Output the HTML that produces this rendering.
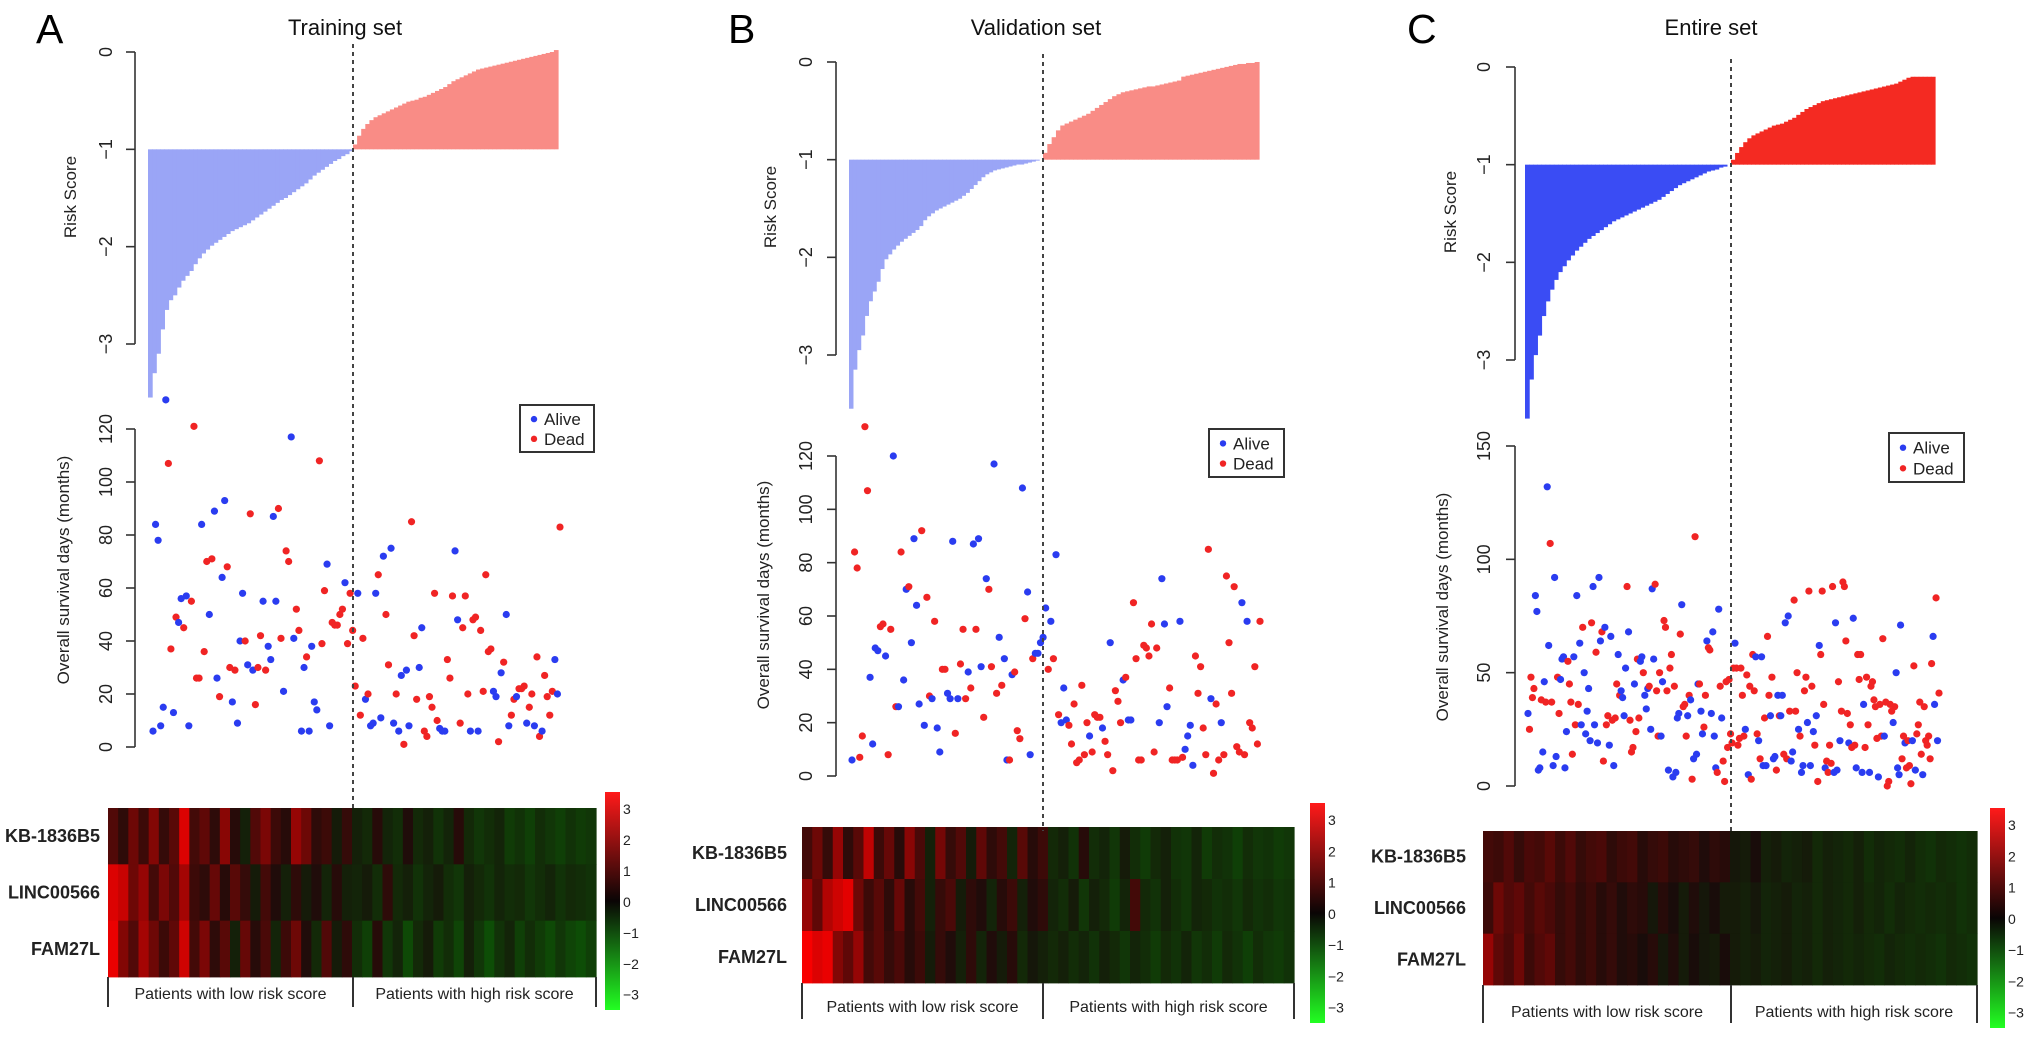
<!DOCTYPE html>
<html><head><meta charset="utf-8"><style>
html,body{margin:0;padding:0;background:#fff;}
svg{display:block;font-family:"Liberation Sans",Arial,sans-serif;}
</style></head><body>
<svg id="fig" width="2031" height="1039" viewBox="0 0 2031 1039" xmlns="http://www.w3.org/2000/svg">
<rect x="0" y="0" width="2031" height="1039" fill="#fff"/>
</svg>
<script>
// ---------- DATA ----------
const genes = ["KB-1836B5","LINC00566","FAM27L"];
const colorbarTicks = [3,2,1,0,-1,-2,-3];
const riskTicks = [0,-1,-2,-3];
const survTicksAB = [0,20,40,60,80,100,120];
const survTicksC = [0,50,100,150];
const legendLabels = ["Alive","Dead"];
const groupLabels = ["Patients with low risk score","Patients with high risk score"];

const riskLowA = [-3.55,-3.3,-3.1,-2.85,-2.65,-2.55,-2.5,-2.42,-2.35,-2.3,-2.25,-2.18,-2.12,-2.07,-2.03,-1.99,-1.96,-1.93,-1.9,-1.87,-1.84,-1.82,-1.8,-1.78,-1.76,-1.73,-1.7,-1.67,-1.64,-1.61,-1.58,-1.55,-1.52,-1.5,-1.47,-1.44,-1.41,-1.38,-1.35,-1.31,-1.27,-1.24,-1.21,-1.18,-1.15,-1.12,-1.1,-1.07,-1.05,-1.02];
const riskHighA = [-0.95,-0.86,-0.79,-0.74,-0.7,-0.67,-0.65,-0.63,-0.61,-0.59,-0.57,-0.55,-0.53,-0.51,-0.5,-0.49,-0.47,-0.46,-0.44,-0.42,-0.4,-0.38,-0.36,-0.33,-0.3,-0.28,-0.26,-0.24,-0.22,-0.2,-0.18,-0.17,-0.16,-0.15,-0.14,-0.13,-0.12,-0.11,-0.1,-0.09,-0.08,-0.07,-0.06,-0.05,-0.04,-0.03,-0.02,-0.01,0.0,0.02];
const riskLowB = [-3.55,-3.15,-2.95,-2.8,-2.6,-2.45,-2.35,-2.25,-2.12,-2.02,-1.97,-1.92,-1.88,-1.84,-1.81,-1.78,-1.75,-1.72,-1.68,-1.62,-1.58,-1.55,-1.52,-1.5,-1.48,-1.46,-1.44,-1.42,-1.4,-1.37,-1.34,-1.3,-1.26,-1.22,-1.18,-1.15,-1.13,-1.11,-1.1,-1.09,-1.08,-1.07,-1.06,-1.05,-1.05,-1.04,-1.03,-1.02,-1.01,-1.0];
const riskHighB = [-0.93,-0.84,-0.77,-0.7,-0.65,-0.63,-0.61,-0.59,-0.57,-0.55,-0.53,-0.5,-0.47,-0.44,-0.41,-0.38,-0.35,-0.33,-0.31,-0.3,-0.29,-0.28,-0.27,-0.26,-0.25,-0.25,-0.24,-0.23,-0.22,-0.21,-0.2,-0.19,-0.15,-0.14,-0.13,-0.12,-0.11,-0.1,-0.09,-0.08,-0.07,-0.06,-0.05,-0.04,-0.03,-0.02,-0.02,-0.01,-0.01,0.0];
const riskLowC = [-3.6,-3.2,-2.95,-2.75,-2.55,-2.4,-2.28,-2.18,-2.1,-2.04,-1.98,-1.93,-1.88,-1.84,-1.8,-1.76,-1.73,-1.7,-1.67,-1.64,-1.61,-1.58,-1.56,-1.54,-1.52,-1.5,-1.48,-1.46,-1.44,-1.42,-1.4,-1.38,-1.36,-1.33,-1.3,-1.27,-1.24,-1.21,-1.19,-1.17,-1.15,-1.13,-1.11,-1.09,-1.07,-1.06,-1.05,-1.03,-1.02,-1.0];
const riskHighC = [-0.95,-0.88,-0.82,-0.77,-0.73,-0.7,-0.68,-0.66,-0.64,-0.62,-0.6,-0.59,-0.58,-0.56,-0.54,-0.52,-0.49,-0.46,-0.43,-0.41,-0.39,-0.37,-0.35,-0.34,-0.33,-0.32,-0.31,-0.3,-0.29,-0.28,-0.27,-0.26,-0.25,-0.24,-0.23,-0.22,-0.21,-0.2,-0.19,-0.18,-0.17,-0.15,-0.13,-0.11,-0.1,-0.1,-0.1,-0.1,-0.1,-0.1];

const survA = [6,84,78,8,15,131,107,37,13,49,47,56,45,57,8,55,121,26,26,84,36,70,50,71,89,26,19,64,93,68,30,17,29,9,40,58,40,31,88,29,16,30,42,55,29,38,33,87,55,90,41,21,74,70,117,41,52,44,6,30,34,6,38,17,14,108,39,59,69,8,47,46,46,50,52,62,39,58,44,23,58,12,41,18,20,8,9,58,65,11,72,50,31,75,9,20,6,27,1,29,8,85,42,18,30,45,6,4,19,15,58,10,7,6,6,33,26,57,74,48,9,45,57,20,6,48,49,6,44,21,65,36,37,21,19,2,28,32,50,8,12,18,19,22,22,23,9,15,20,8,34,4,6,27,19,12,21,33,20,83];
const deadA = [0,0,0,0,0,0,1,1,0,1,0,0,1,0,0,1,1,1,1,0,1,1,0,1,0,0,1,0,0,1,1,0,1,0,0,0,1,0,1,0,1,1,1,0,1,0,0,0,0,1,1,0,1,1,0,0,1,1,0,0,1,0,0,0,0,1,1,1,0,0,1,1,1,1,1,0,1,1,1,1,0,1,1,0,1,0,0,0,1,0,0,1,1,0,0,1,0,0,1,0,0,1,1,1,0,0,1,1,1,1,1,1,0,0,0,1,1,1,0,0,1,1,1,1,0,1,1,0,1,1,1,1,1,0,0,1,0,1,0,0,1,1,0,1,1,1,0,1,1,0,1,1,0,1,1,1,1,0,0,1];

const survB = [6,84,78,7,15,131,107,37,12,48,47,56,57,45,8,55,120,26,26,84,36,70,71,50,89,64,27,92,19,67,30,29,58,18,9,40,40,31,29,88,16,29,42,55,29,39,33,87,55,89,41,22,74,70,41,117,31,52,34,44,6,6,38,39,17,14,108,59,69,8,44,46,46,50,52,63,40,58,44,83,23,20,33,21,19,12,27,5,6,34,8,20,15,9,23,22,22,18,13,8,50,2,32,28,20,36,37,21,21,65,44,6,6,49,48,45,57,9,48,20,74,57,26,33,6,6,6,58,7,10,15,19,4,45,31,41,18,8,85,29,1,27,6,20,8,75,50,31,71,11,9,65,8,58,20,18,41,12,58];
const deadB = [0,1,1,1,1,1,1,0,0,0,0,1,1,0,1,1,0,1,0,1,0,0,1,0,0,0,0,1,0,1,1,0,1,0,0,1,1,0,0,0,1,0,1,1,1,0,1,0,1,0,0,1,0,1,1,0,1,0,1,0,0,1,0,1,1,1,0,1,0,0,1,0,0,0,0,0,1,0,1,0,1,0,0,0,1,1,1,1,1,1,1,1,0,1,1,1,1,0,1,1,0,1,1,1,1,0,1,0,0,1,1,1,1,1,1,1,1,1,1,0,0,0,0,1,1,1,1,0,1,0,0,0,0,1,1,1,1,1,1,0,1,1,1,0,1,1,1,1,1,1,1,0,1,0,1,1,1,1,1];

const survC = [32,25,48,39,43,84,77,7,8,38,15,46,37,132,62,107,37,9,92,13,48,32,47,56,57,8,24,55,45,37,14,57,27,84,36,63,27,70,50,23,33,43,20,72,88,27,59,19,92,64,68,11,70,27,31,18,66,29,9,30,45,58,40,42,39,31,52,88,68,29,15,17,45,24,56,30,55,57,50,40,34,43,44,25,87,56,89,42,22,50,22,46,73,70,42,7,52,58,4,44,6,30,32,67,80,35,36,22,31,40,38,3,12,110,14,45,45,33,23,26,40,64,61,60,32,68,22,8,6,78,44,30,11,2,46,17,47,23,19,52,63,52,18,21,52,40,22,25,49,5,44,3,58,42,57,23,20,12,57,9,30,9,66,40,31,48,12,13,7,40,31,31,40,14,72,12,75,33,11,15,82,33,50,25,22,6,9,42,48,28,86,9,44,24,18,31,2,62,58,86,36,8,11,6,18,10,88,6,72,7,46,20,33,90,88,64,32,19,27,17,74,18,8,58,47,58,6,36,17,48,27,6,44,46,38,35,21,4,36,22,65,22,37,0,2,36,33,28,35,50,8,5,71,12,22,19,8,20,9,1,20,53,7,23,27,37,14,5,35,20,18,22,12,54,66,36,83,20,41];
const deadC = [0,1,1,1,1,0,0,0,0,1,0,0,1,0,0,1,1,0,0,0,1,1,0,0,0,0,0,1,1,1,1,0,1,0,1,0,0,1,0,0,0,0,0,1,0,0,1,0,0,0,1,1,0,1,1,0,0,1,0,1,1,0,1,0,0,0,0,1,0,1,1,1,0,1,1,1,0,0,1,0,0,0,1,0,0,0,1,1,1,1,0,0,1,1,1,0,1,1,0,1,0,0,0,1,0,1,1,1,0,1,0,1,0,1,0,0,1,0,0,1,1,0,1,1,0,0,0,0,1,0,1,0,1,1,1,1,1,1,1,1,0,1,1,1,1,1,1,0,1,0,1,1,1,1,0,1,0,1,0,0,1,0,1,1,0,1,0,0,1,0,1,0,0,1,0,1,0,1,0,0,1,1,1,0,1,0,0,1,1,0,1,0,1,0,1,0,1,0,1,1,1,0,1,1,1,1,1,0,0,0,1,0,1,1,1,1,1,0,1,1,0,1,0,1,1,1,0,0,1,1,1,0,1,1,1,1,1,0,1,1,1,0,1,1,1,1,1,0,1,0,0,0,0,1,1,0,1,1,1,1,0,1,0,1,1,1,1,0,1,1,1,1,1,1,0,0,1,0,1];

const heatA_KB = [0.8,0.3,1.2,0.5,1.5,0.4,0.9,2.8,0.6,1.0,0.3,1.6,0.2,-0.3,0.8,1.4,0.5,0.2,1.8,1.2,0.3,0.5,-0.2,0.4,-0.3,-0.5,0.2,-0.4,-0.6,0.1,-0.5,-0.3,-0.7,-0.4,0.2,-0.5,-0.8,-0.6,-0.4,-0.9,-0.7,-1.0,-0.6,-0.8,-1.0,-0.7,-0.9,-0.8];
const heatA_LINC = [2.8,2.5,1.2,1.8,0.6,1.4,0.8,2.0,0.5,0.3,1.1,0.2,0.9,0.4,-0.2,0.6,0.1,-0.3,0.3,-0.2,0.1,-0.4,0.2,-0.3,-0.4,-0.2,-0.6,0.3,-0.5,-0.3,-0.7,-0.4,-0.2,-0.6,-0.8,-0.3,-0.5,-0.7,-0.4,-0.6,-0.5,-0.8,-0.6,-0.4,-0.7,-0.5,-0.6,-0.7];
const heatA_FAM = [3.0,1.5,0.8,2.0,1.2,0.5,1.0,2.6,0.6,1.4,0.3,0.9,-0.3,1.1,0.2,0.7,-0.4,0.5,1.2,0.1,-0.5,0.8,-0.2,0.3,-0.6,-1.0,0.2,-0.8,-0.4,-1.2,-0.5,-0.2,-0.9,-0.6,-1.1,-0.3,-0.8,-1.3,-0.7,-0.4,-1.0,-0.6,-0.9,-1.2,-0.8,-1.1,-1.3,-1.0];
const heatB_KB = [0.6,1.2,0.4,1.8,0.3,0.9,2.4,0.5,1.1,0.2,1.6,0.7,-0.3,1.3,0.4,0.8,-0.2,1.0,0.3,0.6,-0.4,0.9,0.2,0.5,-0.5,-0.3,-0.7,0.2,-0.6,-0.4,-0.8,-0.2,-0.6,-0.9,-0.5,-0.3,-0.7,-0.8,-0.4,-0.9,-0.6,-0.7,-1.0,-0.6,-0.8,-0.7,-0.9,-0.8];
const heatB_LINC = [1.8,1.0,2.2,2.6,2.9,1.2,0.5,0.9,0.3,1.1,0.2,0.6,-0.3,0.4,0.7,-0.2,0.3,0.1,-0.4,0.2,0.5,-0.3,0.1,0.3,-0.4,-0.6,-0.2,-0.8,-0.3,-0.5,-0.9,-0.4,0.6,-0.5,-0.7,-0.3,-0.6,-0.8,-0.4,-0.5,-0.7,-0.6,-0.8,-0.5,-0.7,-0.6,-0.8,-0.7];
const heatB_FAM = [3.2,2.8,3.0,1.5,1.0,1.8,0.6,0.9,0.4,0.7,0.2,0.5,-0.2,0.4,0.1,-0.3,0.3,-0.4,0.1,-0.2,0.2,-0.5,-0.1,-0.3,-0.5,-0.3,-0.6,-0.4,-0.7,-0.3,-0.5,-0.8,-0.4,-0.6,-0.9,-0.5,-0.7,-0.4,-0.8,-0.6,-0.9,-0.5,-0.7,-1.0,-0.6,-0.8,-0.9,-0.7];
const heatC_KB = [0.6,0.5,0.8,0.4,0.7,0.6,0.9,0.5,0.8,0.4,0.6,0.7,0.3,0.5,0.6,0.2,0.4,0.5,0.2,0.3,0.4,0.1,0.3,0.2,-0.1,-0.2,0.0,-0.3,-0.2,-0.4,-0.3,-0.2,-0.5,-0.3,-0.4,-0.5,-0.3,-0.6,-0.4,-0.5,-0.6,-0.4,-0.6,-0.7,-0.5,-0.6,-0.7,-0.6];
const heatC_LINC = [0.5,1.2,0.8,1.0,0.6,0.9,0.7,0.4,0.6,0.3,0.5,0.2,0.4,0.1,0.3,0.2,-0.1,0.2,0.0,-0.2,0.1,-0.1,0.0,-0.2,-0.2,-0.3,-0.1,-0.4,-0.3,-0.2,-0.4,-0.3,-0.5,-0.3,-0.4,-0.5,-0.3,-0.5,-0.4,-0.6,-0.4,-0.5,-0.6,-0.5,-0.6,-0.5,-0.7,-0.6];
const heatC_FAM = [1.8,1.0,0.7,1.2,0.5,0.8,1.0,0.4,0.6,0.3,0.5,0.2,0.4,0.1,0.2,0.0,0.2,-0.1,0.1,-0.2,0.0,-0.1,-0.2,0.0,-0.2,-0.3,-0.2,-0.4,-0.3,-0.2,-0.4,-0.3,-0.5,-0.3,-0.4,-0.5,-0.4,-0.5,-0.6,-0.4,-0.5,-0.6,-0.5,-0.6,-0.7,-0.5,-0.6,-0.7];

// ---------- LAYOUT ----------
const panels = [
 {letter:"A",title:"Training set",letterX:36,titleX:345,axisX:135,tickLblX:106,riskLblX:70,riskLblY:197,survLblX:63,survLblY:570,
  r0:52,r3:344,barX0:148,barMid:353,barX1:558,low:riskLowA,high:riskHighA,lowCol:"#9aa5f6",highCol:"#f98c86",
  sy0:747,syTop:429,sMax:120,sTicks:survTicksAB,sx0:153,sx1:560,surv:survA,dead:deadA,
  leg:[520,405,74,47],hm:[108,808,596,977],heat:[heatA_KB,heatA_LINC,heatA_FAM],brB:1007,brT:993,cb:[605,792,15,218],lblR:100},
 {letter:"B",title:"Validation set",letterX:728,titleX:1036,axisX:836,tickLblX:806,riskLblX:770,riskLblY:207,survLblX:763,survLblY:595,
  r0:62,r3:355,barX0:849,barMid:1043,barX1:1259,low:riskLowB,high:riskHighB,lowCol:"#9aa5f6",highCol:"#f98c86",
  sy0:776,syTop:456,sMax:120,sTicks:survTicksAB,sx0:852,sx1:1260,surv:survB,dead:deadB,
  leg:[1209,429,75,48],hm:[802,827,1294,983],heat:[heatB_KB,heatB_LINC,heatB_FAM],brB:1019,brT:1006,cb:[1310,803,15,220],lblR:787},
 {letter:"C",title:"Entire set",letterX:1407,titleX:1711,axisX:1515,tickLblX:1484,riskLblX:1450,riskLblY:212,survLblX:1442,survLblY:607,
  r0:67,r3:360,barX0:1525,barMid:1731,barX1:1935,low:riskLowC,high:riskHighC,lowCol:"#3a4cf4",highCol:"#f42a22",
  sy0:786,syTop:446,sMax:150,sTicks:survTicksC,sx0:1528,sx1:1939,surv:survC,dead:deadC,
  leg:[1889,433,75,49],hm:[1483,831,1977,985],heat:[heatC_KB,heatC_LINC,heatC_FAM],brB:1023,brT:1011,cb:[1990,808,15,220],lblR:1466}
];

const NS="http://www.w3.org/2000/svg";
const svg=document.getElementById("fig");
function mk(tag,attrs,parent){const e=document.createElementNS(NS,tag);for(const k in attrs)e.setAttribute(k,attrs[k]);(parent||svg).appendChild(e);return e;}
function heatColor(v){const t=Math.max(-1,Math.min(1,v/3.3));if(t>=0)return `rgb(${Math.round(25+230*t)},${Math.round(12*(1-t))},${Math.round(10*(1-t))})`;const g=-t;return `rgb(${Math.round(22*(1-g))},${Math.round(18+150*g)},${Math.round(10*(1-g))})`;}

const defs=mk("defs",{});
const grad=mk("linearGradient",{id:"cbgrad",x1:"0",y1:"0",x2:"0",y2:"1"},defs);
mk("stop",{offset:"0","stop-color":"#ff1a1a"},grad);
mk("stop",{offset:"0.5","stop-color":"#0a0505"},grad);
mk("stop",{offset:"1","stop-color":"#22ff22"},grad);

panels.forEach((p,pi)=>{
  const g=mk("g",{});
  
  
  const ry=v=>p.r0+(p.r3-p.r0)*(v/-3);
  const sy=v=>p.sy0-(p.sy0-p.syTop)*(v/p.sMax);
  let t=mk("text",{x:p.letterX,y:43,"font-size":41,fill:"#000"},g);t.textContent=p.letter;
  
  
  t=mk("text",{x:p.titleX,y:35,"font-size":22,"text-anchor":"middle",fill:"#111"},g);t.textContent=p.title;
  
  
  const bg=mk("g",{},g);
  
  
  const wL=(p.barMid-p.barX0)/p.low.length;
  p.low.forEach((v,i)=>{const r=mk("rect",{x:p.barX0+i*wL,y:ry(-1),width:wL+0.6,height:ry(v)-ry(-1),fill:p.lowCol},bg);
    
    });
  const wH=(p.barX1-p.barMid)/p.high.length;
  p.high.forEach((v,i)=>{const r=mk("rect",{x:p.barMid+i*wH,y:ry(v),width:wH+0.6,height:ry(-1)-ry(v),fill:p.highCol},bg);
    
    });
  const ax=mk("g",{stroke:"#333","stroke-width":1.6},g);
  
  
  mk("line",{x1:p.axisX,y1:ry(0),x2:p.axisX,y2:ry(-3)},ax);
  riskTicks.forEach(v=>{mk("line",{x1:p.axisX-9,y1:ry(v),x2:p.axisX,y2:ry(v)},ax);
    const tl=mk("text",{x:p.tickLblX,y:ry(v),"font-size":18,"text-anchor":"middle",fill:"#222",stroke:"none",transform:`rotate(-90 ${p.tickLblX} ${ry(v)})`,dy:6},g);
    tl.textContent=v===0?"0":"\u2212"+Math.abs(v);
    
    });
  t=mk("text",{x:p.riskLblX,y:p.riskLblY,"font-size":17,"text-anchor":"middle",fill:"#222",transform:`rotate(-90 ${p.riskLblX} ${p.riskLblY})`,dy:6},g);t.textContent="Risk Score";
  
  
  const sx=mk("g",{stroke:"#333","stroke-width":1.6},g);
  
  
  mk("line",{x1:p.axisX,y1:sy(0),x2:p.axisX,y2:sy(p.sMax)},sx);
  p.sTicks.forEach(v=>{mk("line",{x1:p.axisX-9,y1:sy(v),x2:p.axisX,y2:sy(v)},sx);
    const tl=mk("text",{x:p.tickLblX,y:sy(v),"font-size":18,"text-anchor":"middle",fill:"#222",stroke:"none",transform:`rotate(-90 ${p.tickLblX} ${sy(v)})`,dy:6},g);
    tl.textContent=String(v);
    
    });
  t=mk("text",{x:p.survLblX,y:p.survLblY,"font-size":17,"text-anchor":"middle",fill:"#222",transform:`rotate(-90 ${p.survLblX} ${p.survLblY})`,dy:6},g);t.textContent="Overall survival days  (months)";
  
  
  const pg=mk("g",{},g);
  
  
  const N=p.surv.length;
  p.surv.forEach((v,i)=>{const c=mk("circle",{cx:p.sx0+(p.sx1-p.sx0)*i/(N-1),cy:sy(v),r:3.6,fill:p.dead[i]?"#f02424":"#2a3cf0"},pg);
    
    });
  const lg=mk("g",{},g);
  
  
  const [lx,ly,lw,lh]=p.leg;
  mk("rect",{x:lx,y:ly,width:lw,height:lh,fill:"#fff",stroke:"#333","stroke-width":2},lg);
  legendLabels.forEach((s,k)=>{const yy=ly+lh*(0.3+0.42*k);
    const d=mk("circle",{cx:lx+14,cy:yy,r:3.2,fill:k?"#f02424":"#2a3cf0"},lg);
    
    
    const tt=mk("text",{x:lx+24,y:yy+6,"font-size":17,fill:"#222"},lg);tt.textContent=s;
    
    });
  const [hx0,hy0,hx1,hy1]=p.hm;
  const hg=mk("g",{},g);
  
  
  const rh=(hy1-hy0)/genes.length;
  genes.forEach((gn,r)=>{const row=p.heat[r];const cw=(hx1-hx0)/row.length;
    row.forEach((v,c)=>{const cell=mk("rect",{x:hx0+c*cw,y:hy0+r*rh,width:cw+0.6,height:rh+0.4,fill:heatColor(v)},hg);
      
      });
    const tl=mk("text",{x:p.lblR,y:hy0+r*rh+rh/2+6,"font-size":18,"font-weight":"bold","text-anchor":"end",fill:"#222"},g);
    tl.textContent=gn;
    
    });
  const br=mk("g",{stroke:"#333","stroke-width":2},g);
  
  
  [hx0,p.barMid,hx1].forEach(x=>mk("line",{x1:x,y1:hy1,x2:x,y2:p.brB},br));
  groupLabels.forEach((s,k)=>{const cx=k?(p.barMid+hx1)/2:(hx0+p.barMid)/2;
    const tt=mk("text",{x:cx,y:p.brT+6,"font-size":16,"text-anchor":"middle",fill:"#222"},g);tt.textContent=s;
    
    });
  const [cx,cy,cw,ch]=p.cb;
  const cbr=mk("rect",{x:cx,y:cy,width:cw,height:ch,fill:"url(#cbgrad)"},g);
  
  
  colorbarTicks.forEach((v,k)=>{const yy=cy+ch*(0.078+0.142*k);
    const tt=mk("text",{x:cx+cw+3,y:yy+5,"font-size":14,fill:"#222"},g);tt.textContent=v<0?"\u2212"+Math.abs(v):String(v);
    
    });
  const dl=mk("line",{x1:p.barMid,y1:p.r0-8,x2:p.barMid,y2:hy0+4,stroke:"#444","stroke-width":2,"stroke-dasharray":"4,4"},g);
  
  
});
</script>
</body></html>
